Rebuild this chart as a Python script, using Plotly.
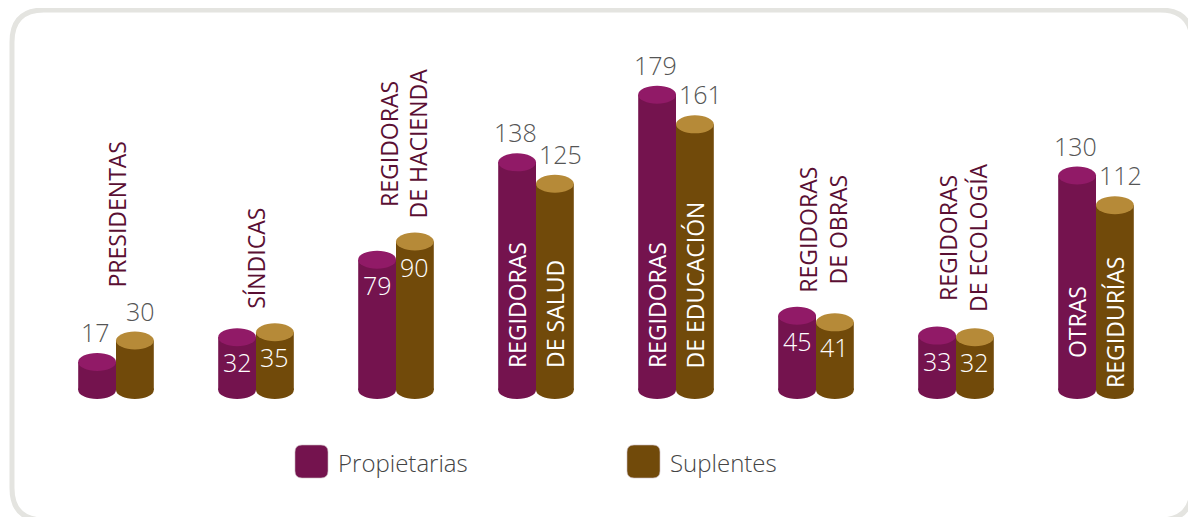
import plotly.graph_objects as go

# ---------------- data ----------------
categories = ["PRESIDENTAS", "SÍNDICAS", "REGIDORAS<br>DE HACIENDA", "REGIDORAS<br>DE SALUD",
              "REGIDORAS<br>DE EDUCACIÓN", "REGIDORAS<br>DE OBRAS", "REGIDORAS<br>DE ECOLOGÍA",
              "OTRAS<br>REGIDURÍAS"]
propietarias = [17, 32, 79, 138, 179, 45, 33, 130]
suplentes = [30, 35, 90, 125, 161, 41, 32, 112]
series_names = ["Propietarias", "Suplentes"]

# ---------------- styles ----------------
prop_label_pos = ["out", "in", "in", "out", "out", "in", "in", "out"]
sup_label_pos = ["out", "in", "in", "out", "out", "in", "in", "out"]
cat_label_pos = ["above", "above", "above", "inside_bottom", "inside_bottom", "above", "above", "inside_center"]

PROP_BODY, PROP_TOP = "#74134e", "#911a67"
SUP_BODY, SUP_TOP = "#714a0a", "#b68a38"
CAT_COLOR = "#5a0f33"
VAL_COLOR = "#555555"
FONT = "Open Sans"

OFF = 8                      # page body margin offset
W, H = 1196 - OFF, 517 - OFF
ML, MR, MT, MB = 38, 30, 12, 97
PW, PH = W - ML - MR, H - MT - MB
BW = 0.27
CAP = 9

def px2paper(px, py):
    # px, py are page coordinates
    fx, fy = px - OFF, py - OFF
    return (fx - ML) / PW, (H - MB - fy) / PH

def rounded_path(x0, y0, x1, y1, r):
    def P(x, y):
        a, b = px2paper(x, y)
        return f"{a:.5f},{b:.5f}"
    d = f"M{P(x0 + r, y0)} L{P(x1 - r, y0)} Q{P(x1, y0)} {P(x1, y0 + r)} "
    d += f"L{P(x1, y1 - r)} Q{P(x1, y1)} {P(x1 - r, y1)} "
    d += f"L{P(x0 + r, y1)} Q{P(x0, y1)} {P(x0, y1 - r)} "
    d += f"L{P(x0, y0 + r)} Q{P(x0, y0)} {P(x0 + r, y0)} Z"
    return d

idx = list(range(len(categories)))

fig = go.Figure()
fig.add_trace(go.Bar(x=idx, y=propietarias, width=BW, offset=-BW, name=series_names[0],
                     marker=dict(color=PROP_BODY, line=dict(width=0)), showlegend=False,
                     hoverinfo="y"))
fig.add_trace(go.Bar(x=idx, y=suplentes, width=BW, offset=0, name=series_names[1],
                     marker=dict(color=SUP_BODY, line=dict(width=0)), showlegend=False,
                     hoverinfo="y"))

shapes = []
annotations = []

# frame
shapes.append(dict(type="path", xref="paper", yref="paper",
                   path=rounded_path(12, 10, 1192, 520, 32),
                   line=dict(color="#e4e4e0", width=5), fillcolor="rgba(0,0,0,0)", layer="below"))

for k, (series, off, body, top, pos) in enumerate([(propietarias, -BW, PROP_BODY, PROP_TOP, prop_label_pos),
                                                   (suplentes, 0, SUP_BODY, SUP_TOP, sup_label_pos)]):
    for i, v in enumerate(series):
        x0, x1 = i + off, i + off + BW
        shapes.append(dict(type="circle", xref="x", yref="y", x0=x0, x1=x1,
                           ysizemode="pixel", yanchor=0, y0=-CAP, y1=CAP,
                           fillcolor=body, line=dict(width=0), layer="below"))
        shapes.append(dict(type="circle", xref="x", yref="y", x0=x0, x1=x1,
                           ysizemode="pixel", yanchor=v, y0=-CAP, y1=CAP,
                           fillcolor=top, line=dict(width=0), layer="above"))
        xc = (x0 + x1) / 2
        if pos[i] == "out":
            annotations.append(dict(x=xc, y=v, xref="x", yref="y", text=str(v), showarrow=False,
                                    yanchor="bottom", yshift=CAP + 2, xshift=6 if k == 1 else -2,
                                    font=dict(family=FONT, size=25, color=VAL_COLOR, weight=300)))
        else:
            annotations.append(dict(x=xc, y=v, xref="x", yref="y", text=str(v), showarrow=False,
                                    yanchor="top", yshift=-6,
                                    font=dict(family=FONT, size=25, color="white", weight=300)))

# category labels
for i, cat in enumerate(categories):
    mode = cat_label_pos[i]
    lines = cat.split("<br>")
    if mode == "above":
        vmax = max(propietarias[i], suplentes[i])
        extra = 30 if ("out" in (prop_label_pos[i], sup_label_pos[i])) else 0
        xc = i + (0.05 if len(lines) > 1 else 0)
        annotations.append(dict(x=xc, y=vmax, xref="x", yref="y", text=cat, showarrow=False,
                                textangle=-90, yanchor="bottom", xanchor="center",
                                yshift=CAP + 12 + extra, align="center",
                                font=dict(family=FONT, size=23, color=CAT_COLOR)))
    else:
        for j, line in enumerate(lines):
            xc = i + (-BW / 2 if j == 0 else BW / 2)
            if mode == "inside_bottom":
                annotations.append(dict(x=xc, y=0, xref="x", yref="y", text=line, showarrow=False,
                                        textangle=-90, yanchor="bottom", xanchor="center",
                                        yshift=20,
                                        font=dict(family=FONT, size=23, color="white")))
            else:
                annotations.append(dict(x=xc, y=0, xref="x", yref="y", text=line, showarrow=False,
                                        textangle=-90, yanchor="middle", xanchor="center",
                                        yshift=68,
                                        font=dict(family=FONT, size=23, color="white")))

# custom legend
for name, color, sx, tx in [(series_names[0], PROP_BODY, 295, 336), (series_names[1], SUP_BODY, 627, 668)]:
    shapes.append(dict(type="path", xref="paper", yref="paper",
                       path=rounded_path(sx, 445, sx + 33, 478, 7),
                       fillcolor=color, line=dict(color="#c9b9c0", width=0.6), layer="above"))
    a, b = px2paper(tx, 462)
    annotations.append(dict(x=a, y=b, xref="paper", yref="paper", text=name, showarrow=False,
                            xanchor="left", yanchor="middle",
                            font=dict(family=FONT, size=24, color="#444444", weight=300)))

scale = 1.65
base_page_y = 390
y_min = -((MT + PH) - (base_page_y - OFF)) / scale
y_max = y_min + PH / scale

fig.update_layout(
    width=W, height=H, autosize=False,
    margin=dict(l=ML, r=MR, t=MT, b=MB),
    paper_bgcolor="white", plot_bgcolor="white",
    barmode="overlay",
    xaxis=dict(range=[-0.5, len(categories) - 0.5], visible=False, fixedrange=True),
    yaxis=dict(range=[y_min, y_max], visible=False, fixedrange=True),
    shapes=shapes, annotations=annotations,
    showlegend=False,
    font=dict(family=FONT),
)

fig.write_html("out.html")
